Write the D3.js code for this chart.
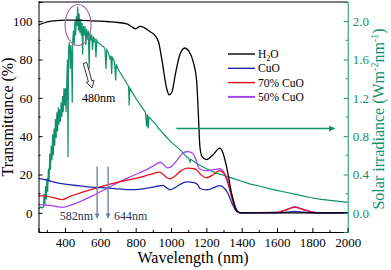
<!DOCTYPE html>
<html>
<head>
<meta charset="utf-8">
<script src="https://cdn.jsdelivr.net/npm/d3@7"></script>
<style>
  body { margin: 0; background: #fff; }
  svg text { font-family: "Liberation Serif", "Times New Roman", serif; }
</style>
</head>
<body>
<script>
// transmittance spectra (%)
var h2oWl = [250, 300, 350, 400, 450, 500, 550, 600, 650, 700, 750, 775, 800, 825, 850, 880, 910, 930, 950, 975, 990, 1005, 1025, 1050, 1078, 1100, 1128, 1145, 1155, 1163, 1175, 1200, 1240, 1275, 1295, 1315, 1343, 1372, 1392, 1600, 1800, 2000];
var h2oT  = [98, 99.6, 100.3, 100.5, 100.5, 100.4, 100.2, 100, 99.7, 99.3, 98.6, 97.3, 96, 97.3, 96.5, 94.6, 92.5, 89, 79, 65, 61.5, 63, 72.5, 82.5, 86, 84.5, 78, 69, 51, 35, 29.5, 27.8, 30.5, 33.8, 31, 23.8, 10, 1, 0, 0, 0, 0];

var cuoWl = [250, 300, 350, 400, 450, 500, 550, 600, 650, 700, 750, 800, 850, 900, 930, 955, 975, 995, 1020, 1050, 1090, 1130, 1150, 1165, 1200, 1240, 1275, 1300, 1320, 1345, 1372, 1390, 1600, 1650, 1700, 1750, 1800, 2000];
var cuoT  = [18, 17, 15.8, 15, 14.4, 13.9, 13.4, 13.1, 12.9, 12.5, 12.1, 12.1, 12.6, 13.4, 14, 14.3, 13, 12, 13, 14.8, 16.2, 15.8, 14.8, 12.7, 12, 13, 14.2, 13, 10.5, 5, 0.7, 0, 0, 0.3, 0.8, 0.3, 0, 0];

var cuo70Wl = [250, 300, 340, 385, 420, 450, 500, 550, 600, 650, 700, 750, 800, 850, 900, 930, 950, 975, 995, 1020, 1050, 1095, 1130, 1150, 1165, 1200, 1240, 1275, 1300, 1320, 1345, 1372, 1390, 1600, 1650, 1700, 1750, 1800, 1850, 2000];
var cuo70T  = [9, 8.6, 7.8, 6.9, 8.2, 9.3, 10.8, 12.2, 13.6, 14.9, 16, 17, 18, 19.2, 20.5, 21.2, 20.5, 18.4, 17.7, 19, 21.5, 23.3, 23, 22, 20.3, 18.3, 20, 22, 20.5, 16, 7.5, 1, 0, 0.2, 1.5, 2.8, 1.6, 0.3, 0, 0];

var cuo50Wl = [250, 300, 350, 385, 450, 500, 550, 582, 600, 644, 700, 750, 800, 850, 900, 940, 960, 980, 1000, 1030, 1060, 1090, 1120, 1140, 1160, 1200, 1240, 1275, 1300, 1320, 1345, 1375, 1395, 1600, 1650, 1700, 1750, 1800, 1850, 2000];
var cuo50T  = [4.3, 4, 3.3, 2.9, 4.6, 6.5, 8.6, 10.1, 11, 13.1, 15.8, 18, 20, 22, 24.5, 26.4, 25, 23.5, 24, 27, 30.5, 32, 31.2, 28, 23, 22, 22.5, 23, 21, 17, 9, 1.2, 0, 0.2, 1.6, 3.2, 1.8, 0.5, 0, 0];

// solar irradiance (W m-2 nm-1)
var solarWl = [250, 262, 270, 278, 282, 286, 290, 294, 298, 302, 306, 310, 314, 318, 322, 326, 330, 334, 338, 342, 346, 350, 354, 358, 362, 366, 370, 374, 378, 382, 386, 390, 394, 398, 402, 406, 410, 414, 417, 420, 425, 430, 433, 437, 441, 444, 448, 452, 456, 460, 464, 468, 472, 476, 480, 484, 488, 492, 496, 500, 504, 508, 513, 518, 522, 527, 532, 537, 541, 546, 551, 556, 561, 566, 570, 575, 580, 590, 600, 610, 620, 626, 632, 636, 645, 656, 660, 664, 668, 680, 687, 690, 700, 710, 720, 730, 740, 750, 760, 763, 767, 780, 796, 810, 825, 840, 855, 862, 866, 871, 875, 885, 900, 915, 930, 940, 960, 985, 1000, 1050, 1090, 1100, 1108, 1112, 1150, 1200, 1250, 1300, 1350, 1400, 1450, 1500, 1560, 1600, 1650, 1700, 1750, 1786, 1850, 1900, 1950, 2000];
var solarIrr = [0.04, 0.06, 0.05, 0.06, 0.2, 0.08, 0.28, 0.14, 0.36, 0.22, 0.46, 0.34, 0.62, 0.45, 0.7, 0.55, 0.82, 0.6, 0.88, 0.7, 0.98, 0.78, 1.05, 0.85, 1.1, 0.92, 1.08, 0.95, 1.15, 1.0, 1.22, 1.05, 1.3, 1.12, 1.3, 1.05, 1.35, 1.6, 0.58, 1.7, 1.78, 1.5, 1.75, 1.65, 1.15, 1.8, 1.9, 1.75, 2.0, 1.85, 2.05, 1.95, 2.15, 1.9, 2.08, 1.88, 2.02, 1.85, 1.98, 1.65, 1.95, 1.85, 1.95, 1.75, 1.92, 1.82, 1.9, 1.5, 1.88, 1.8, 1.86, 1.7, 1.84, 1.78, 1.82, 1.62, 1.8, 1.77, 1.76, 1.74, 1.73, 1.71, 1.5, 1.7, 1.67, 1.6, 1.64, 1.45, 1.62, 1.58, 1.38, 1.55, 1.5, 1.47, 1.44, 1.41, 1.38, 1.35, 1.32, 1.12, 1.3, 1.26, 1.21, 1.17, 1.13, 1.09, 1.05, 0.9, 1.03, 0.88, 1.0, 0.98, 0.95, 0.92, 0.88, 0.86, 0.82, 0.77, 0.74, 0.66, 0.58, 0.57, 0.53, 0.56, 0.51, 0.46, 0.42, 0.39, 0.36, 0.33, 0.3, 0.28, 0.25, 0.235, 0.215, 0.195, 0.175, 0.16, 0.14, 0.13, 0.12, 0.11];

var xTicks = [400, 600, 800, 1000, 1200, 1400, 1600, 1800, 2000];
var yTicks = [0, 20, 40, 60, 80, 100];
var y2Ticks = [0.0, 0.4, 0.8, 1.2, 1.6, 2.0];

var legendNames = ["H2O", "CuO", "70% CuO", "50% CuO"];
var colors = ["#000000", "#1f2aa8", "#e3121e", "#a545ee"];
var green = "#10916b";
var serif = "'Liberation Serif', 'Times New Roman', serif";

var width = 391, height = 270;
var margin = { left: 38.5, right: 43.3, top: 2, bottom: 38 };

var svg = d3.select("body").append("svg")
  .attr("width", width)
  .attr("height", height)
  .style("font-family", serif);

var x = d3.scaleLinear().domain([250, 2000]).range([margin.left, width - margin.right]);
var y = d3.scaleLinear().domain([-10, 110]).range([height - margin.bottom, margin.top]);
var y2 = d3.scaleLinear().domain([-0.2, 2.2]).range([height - margin.bottom, margin.top]);

var defs = svg.append("defs");
defs.append("marker").attr("id", "ghead")
  .attr("viewBox", "0 0 10 10").attr("refX", 9).attr("refY", 5)
  .attr("markerWidth", 9).attr("markerHeight", 6).attr("markerUnits", "userSpaceOnUse")
  .attr("orient", "auto")
  .append("path").attr("d", "M0,0L10,5L0,10Z").attr("fill", green);
defs.append("marker").attr("id", "bhead")
  .attr("viewBox", "0 0 10 10").attr("refX", 9).attr("refY", 5)
  .attr("markerWidth", 7).attr("markerHeight", 5).attr("markerUnits", "userSpaceOnUse")
  .attr("orient", "auto")
  .append("path").attr("d", "M0,0L10,5L0,10Z").attr("fill", "#6f86a0");

var plot = svg.append("g");

// solar spectrum
var solarLine = d3.line()
  .x(function(d, i) { return x(solarWl[i]); })
  .y(function(d) { return y2(d); });
plot.append("path")
  .attr("d", solarLine(solarIrr))
  .attr("fill", "none")
  .attr("stroke", green)
  .attr("stroke-width", 1.2);

// transmittance curves
var series = [[h2oWl, h2oT], [cuoWl, cuoT], [cuo70Wl, cuo70T], [cuo50Wl, cuo50T]];
var tLine = d3.line().curve(d3.curveMonotoneX)
  .x(function(d) { return x(d[0]); })
  .y(function(d) { return y(d[1]); });

[3, 2, 1, 0].forEach(function(k) {
  var pts = series[k][0].map(function(w, i) { return [w, series[k][1][i]]; });
  plot.append("path")
    .attr("d", tLine(pts))
    .attr("fill", "none")
    .attr("stroke", colors[k])
    .attr("stroke-width", 1.3);
});

// frame
var x0 = x.range()[0], x1 = x.range()[1], yb = y.range()[0], yt = y.range()[1];
svg.append("line").attr("x1", x0).attr("x2", x1).attr("y1", yt).attr("y2", yt).attr("stroke", "#000");

// bottom axis, ticks inward
var xAxis = d3.axisBottom(x).tickValues(xTicks).tickSize(-4).tickPadding(6).tickFormat(d3.format("d"));
var gx = svg.append("g").attr("transform", "translate(0," + yb + ")").call(xAxis)
  .attr("font-family", serif).attr("font-size", 13);
gx.selectAll(".tick line").attr("stroke", "#000");
gx.selectAll("text").attr("fill", "#000");
gx.select(".domain").attr("stroke", "#000");
gx.selectAll(".minor").data(d3.range(300, 2000, 200)).enter().append("line")
  .attr("x1", function(d) { return x(d); }).attr("x2", function(d) { return x(d); })
  .attr("y1", 0).attr("y2", -2).attr("stroke", "#000");

// left axis
var yAxis = d3.axisLeft(y).tickValues(yTicks).tickSize(-4).tickPadding(6);
var gy = svg.append("g").attr("transform", "translate(" + x0 + ",0)").call(yAxis)
  .attr("font-family", serif).attr("font-size", 13);
gy.selectAll("text").attr("fill", "#000");
gy.selectAll(".tick line").attr("stroke", "#000");
gy.select(".domain").attr("stroke", "#000");
gy.selectAll(".minor").data(d3.range(-10, 111, 20)).enter().append("line")
  .attr("y1", function(d) { return y(d); }).attr("y2", function(d) { return y(d); })
  .attr("x1", 0).attr("x2", 2).attr("stroke", "#000");

// right axis (green)
var y2Axis = d3.axisRight(y2).tickValues(y2Ticks).tickSize(-4).tickPadding(5).tickFormat(d3.format(".1f"));
var gy2 = svg.append("g").attr("transform", "translate(" + x1 + ",0)").call(y2Axis)
  .attr("font-family", serif).attr("font-size", 13);
gy2.selectAll("text").attr("fill", green);
gy2.selectAll(".tick line").attr("stroke", green);
gy2.select(".domain").attr("stroke", green);
gy2.selectAll(".minor").data(d3.range(0.2, 2.2, 0.4)).enter().append("line")
  .attr("y1", function(d) { return y2(d); }).attr("y2", function(d) { return y2(d); })
  .attr("x1", 0).attr("x2", -2).attr("stroke", green);

// axis titles
svg.append("text")
  .attr("x", (x0 + x1) / 2).attr("y", 263)
  .attr("text-anchor", "middle").attr("font-size", 16)
  .text("Wavelength (nm)");

svg.append("text")
  .attr("transform", "translate(13," + ((yb + yt) / 2) + ") rotate(-90)")
  .attr("text-anchor", "middle").attr("font-size", 16)
  .text("Transmittance (%)");

var rt = svg.append("text")
  .attr("transform", "translate(384," + ((yb + yt) / 2 + 2) + ") rotate(-90)")
  .attr("text-anchor", "middle").attr("font-size", 16).attr("fill", green);
rt.append("tspan").text("Solar irradiance (Wm");
rt.append("tspan").attr("dy", -6).attr("font-size", 10).text("-2");
rt.append("tspan").attr("dy", 6).text("nm");
rt.append("tspan").attr("dy", -6).attr("font-size", 10).text("-1");
rt.append("tspan").attr("dy", 6).text(")");

// legend
var lg = svg.append("g").attr("transform", "translate(228,54)");
legendNames.forEach(function(name, i) {
  var row = lg.append("g").attr("transform", "translate(0," + (i * 14.3) + ")");
  row.append("line").attr("x1", 0).attr("x2", 27).attr("stroke", colors[i]).attr("stroke-width", i === 3 ? 2 : 1.4);
  var t = row.append("text").attr("x", 30).attr("y", 4).attr("font-size", 11.5);
  if (name === "H2O") {
    t.append("tspan").text("H");
    t.append("tspan").attr("dy", 3).attr("font-size", 8).text("2");
    t.append("tspan").attr("dy", -3).text("O");
  } else {
    t.text(name);
  }
});

// annotations
svg.append("ellipse")
  .attr("cx", x(474)).attr("cy", y(98)).attr("rx", 13).attr("ry", 20.5)
  .attr("fill", "none").attr("stroke", "#a06a9c").attr("stroke-width", 1.2);

// hollow arrow pointing at 480nm
var ax0 = 85, ay0 = 63, ax1 = 92, ay1 = 88;
var ang = Math.atan2(ay1 - ay0, ax1 - ax0);
var len = Math.hypot(ax1 - ax0, ay1 - ay0);
svg.append("path")
  .attr("transform", "translate(" + ax0 + "," + ay0 + ") rotate(" + (ang * 180 / Math.PI) + ")")
  .attr("d", "M0,-1.8L" + (len - 7) + ",-1.8L" + (len - 7) + ",-4L" + len + ",0L" + (len - 7) + ",4L" + (len - 7) + ",1.8L0,1.8Z")
  .attr("fill", "#fff").attr("stroke", "#333").attr("stroke-width", 0.9);
svg.append("text").attr("x", 82).attr("y", 102).attr("font-size", 12).text("480nm");

// crossing arrows
[582, 644].forEach(function(w) {
  svg.append("line")
    .attr("x1", x(w)).attr("x2", x(w)).attr("y1", 166.5).attr("y2", 218)
    .attr("stroke", "#6f86a0").attr("stroke-width", 1.4)
    .attr("marker-end", "url(#bhead)");
});
svg.append("text").attr("x", x(582) - 4).attr("y", 220).attr("text-anchor", "end")
  .attr("font-size", 12).attr("fill", "#2b3553").text("582nm");
svg.append("text").attr("x", x(644) + 6).attr("y", 220)
  .attr("font-size", 12).attr("fill", "#2b3553").text("644nm");

// green arrow to right axis
svg.append("line")
  .attr("x1", x(1030)).attr("x2", x(1925)).attr("y1", y2(0.88)).attr("y2", y2(0.88))
  .attr("stroke", green).attr("stroke-width", 1.4)
  .attr("marker-end", "url(#ghead)");
</script>
</body>
</html>
